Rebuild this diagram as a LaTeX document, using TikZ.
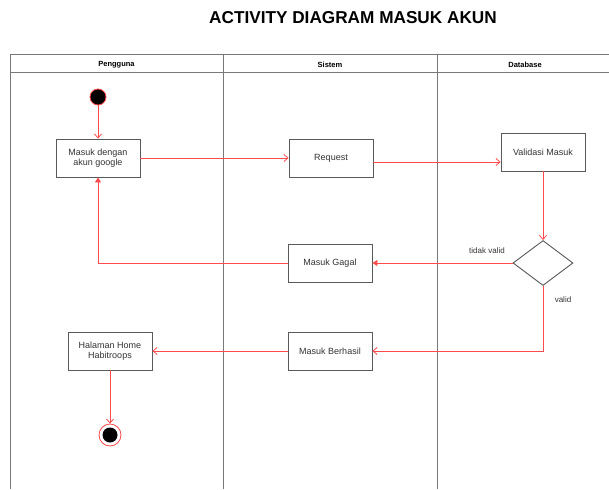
\documentclass[tikz,border=0pt]{standalone}
\usepackage{fontspec}
\setmainfont{Liberation Sans}
\usetikzlibrary{arrows.meta,shapes.geometric}
\definecolor{flowred}{RGB}{255,75,75}
\definecolor{boxgray}{RGB}{90,90,90}
\definecolor{lanegray}{RGB}{120,120,120}
\begin{document}
\begin{tikzpicture}[x=1pt,y=-1pt,
  actbox/.style={draw=boxgray,line width=0.9pt,fill=white,minimum width=84pt,minimum height=38pt,
    inner sep=1pt,align=center,font=\fontsize{9}{10.5}\selectfont,text=black!80},
  decision/.style={draw=boxgray,line width=0.9pt,fill=white,diamond,minimum width=60pt,minimum height=45pt,inner sep=0pt},
  lane/.style={draw=lanegray,line width=1pt},
  lanehead/.style={font=\bfseries\fontsize{7.5}{9}\selectfont},
  flow/.style={draw=flowred,line width=0.8pt,-{Straight Barb[length=4pt,width=7pt]}},
  flowfill/.style={draw=flowred,line width=0.8pt,-{Triangle[length=5pt,width=6pt]}},
  guard/.style={font=\fontsize{8}{9.5}\selectfont,text=black!80}
]
\useasboundingbox (0,0) rectangle (609,489);
\fill[white] (0,0) rectangle (609,489);

% title
\node[font=\bfseries\fontsize{17.2}{20}\selectfont] (title) at (353,18) {ACTIVITY DIAGRAM MASUK AKUN};

% swimlanes
\draw[lane] (10,489) -- (10,55) -- (609,55);
\draw[lane] (10,73) -- (609,73);
\draw[lane] (223,55) -- (223,489);
\draw[lane] (437,55) -- (437,489);
\node[lanehead] (hp) at (116.5,64.5) {Pengguna};
\node[lanehead] (hs) at (330,64.5) {Sistem};
\node[lanehead] (hd) at (525,64.5) {Database};

% activity nodes
\node[circle,fill=black,draw=flowred,line width=0.8pt,minimum size=16pt,inner sep=0pt] (start) at (98,97) {};
\node[actbox] (login) at (98,158) {Masuk dengan\\akun google};
\node[actbox] (req) at (331,158) {Request};
\node[actbox] (val) at (543,152) {Validasi Masuk};
\node[decision] (dec) at (543,263) {};
\node[actbox] (gagal) at (330,263) {Masuk Gagal};
\node[actbox] (berhasil) at (330,351) {Masuk Berhasil};
\node[actbox] (home) at (110,351) {Halaman Home\\Habitroops};
\node[circle,draw=flowred,fill=white,line width=0.8pt,minimum size=22pt,inner sep=0pt] (end) at (110,435) {};
\node[circle,fill=black,minimum size=15pt,inner sep=0pt] (endcore) at (end.center) {};

% control flow
\draw[flow] (start) -- (login);
\draw[flow] (login) -- (req);
\draw[flow] ([yshift=-4pt]req.east) -- ([yshift=-4pt]req.east -| val.west);
\draw[flow] (val) -- (dec);
\draw[flowfill] (dec.west) -- (gagal.east);
\draw[flow] (dec.south) |- (berhasil.east);
\draw[flowfill] (gagal.west) -| (login.south);
\draw[flow] (berhasil) -- (home);
\draw[flow] (home) -- (end);

% guards
\node[guard] (gno) at (487,251) {tidak valid};
\node[guard] (gyes) at (563,300) {valid};
\end{tikzpicture}
\end{document}
